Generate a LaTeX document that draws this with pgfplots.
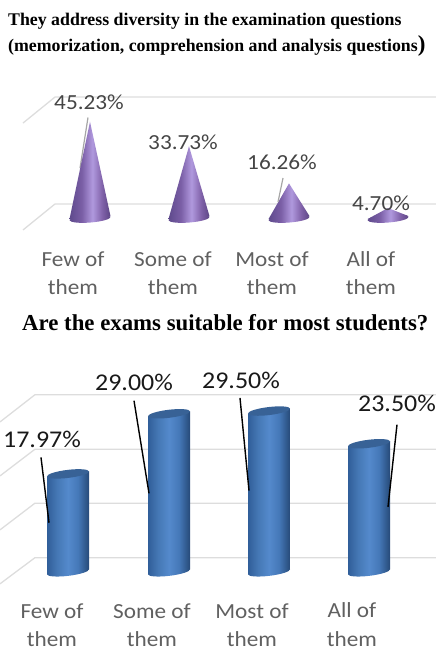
\documentclass[border=0pt]{standalone}
\usepackage{pgfplots}
\pgfplotsset{compat=1.18}
\usepackage{fontspec}
\setmainfont[FakeStretch=1.08]{Carlito}
\newfontfamily\titlefont{Liberation Serif}
% Lengthwise colour profiles of the 3D-looking columns and cones
\pgfdeclarehorizontalshading{conepurple}{100bp}{
  rgb(0bp)=(0.37,0.29,0.55); rgb(25bp)=(0.37,0.29,0.55);
  rgb(40bp)=(0.48,0.37,0.65); rgb(53bp)=(0.69,0.60,0.87);
  rgb(65bp)=(0.50,0.38,0.66); rgb(75bp)=(0.36,0.27,0.52); rgb(100bp)=(0.36,0.27,0.52)}
\pgfdeclarehorizontalshading{cylblue}{100bp}{
  rgb(0bp)=(0.19,0.37,0.60); rgb(25bp)=(0.19,0.37,0.60);
  rgb(37bp)=(0.27,0.47,0.71); rgb(50bp)=(0.33,0.54,0.80);
  rgb(62bp)=(0.27,0.47,0.72); rgb(75bp)=(0.15,0.29,0.47); rgb(100bp)=(0.15,0.29,0.47)}
\definecolor{gridgrey}{HTML}{DDDDDD}
\definecolor{topface}{HTML}{386296}
\definecolor{catgrey}{HTML}{606060}
\definecolor{lblgrey}{HTML}{454545}
\definecolor{leadgrey}{HTML}{A6A6A6}
% Tilted ellipses closing the foot and the head of each solid
\pgfdeclareplotmark{conebase}{\pgfpathellipse{\pgfqpoint{0pt}{-0.5pt}}{\pgfqpoint{20.5pt}{1.6pt}}{\pgfqpoint{-0.3pt}{4pt}}\pgfshadepath{conepurple}{0}\pgfusepath{discard}}
\pgfdeclareplotmark{cylbase}{\pgfpathellipse{\pgfpointorigin}{\pgfqpoint{21pt}{2.5pt}}{\pgfqpoint{-0.4pt}{4pt}}\pgfshadepath{cylblue}{0}\pgfusepath{discard}}
\pgfdeclareplotmark{cyltop}{\pgfpathellipse{\pgfpointorigin}{\pgfqpoint{21pt}{2.5pt}}{\pgfqpoint{-0.4pt}{4pt}}\pgfusepathqfill}
\pgfplotsset{
  panel/.style={x=1pt,xmin=0,xmax=436,scale only axis,axis lines=none,clip=false,anchor=south west},
  gridline/.style={gridgrey,line width=1.3pt,no markers},
}
\tikzset{cat/.style={text=catgrey,align=center,anchor=north,font=\fontsize{21.5}{28.5}\selectfont}}
\begin{document}
\begin{tikzpicture}
\useasboundingbox (0,0) rectangle (436pt,651pt);
% Headings
\node[anchor=base west,inner sep=0pt,font=\titlefont\bfseries\fontsize{17.8}{20}\selectfont] at (8pt,625pt)
  {They address diversity in the examination questions};
\node[anchor=base west,inner sep=0pt,font=\titlefont\bfseries\fontsize{17.8}{20}\selectfont] at (8pt,599pt)
  {(memorization, comprehension and analysis questions{\fontsize{23}{23}\selectfont)}};
\node[anchor=base west,inner sep=0pt,font=\titlefont\bfseries\fontsize{22.8}{26}\selectfont] at (22pt,320pt)
  {Are the exams suitable for most students?};

% Cone panel: 2.13 pt per percentage point, baseline 433 pt above the page foot
\begin{axis}[at={(0pt,407.4pt)},y=2.13pt,ymin=-12,ymax=58,panel]
  \addplot[gridline] coordinates {(23,44.6) (55,56.8) (436,56.8)};
  \addplot[gridline] coordinates {(23,-5.6) (55,6.6) (436,6.6)};
  \addplot[leadgrey,line width=1.2pt] coordinates {(88,47.2) (80,23.4)};
  \addplot[only marks,mark=conebase] coordinates {(90,0) (189,0) (289,0) (388,0)};
  \addplot[draw=none,shading=conepurple] coordinates {(69.5,-0.5) (90,45.23) (110.5,0.9)};
  \addplot[draw=none,shading=conepurple] coordinates {(168.5,-0.5) (189,33.73) (209.5,0.9)};
  \addplot[draw=none,shading=conepurple] coordinates {(268.5,-0.5) (289,16.26) (309.5,0.9)};
  \addplot[draw=none,shading=conepurple] coordinates {(367.5,-0.5) (388,4.70) (408.5,0.9)};
  \addplot[leadgrey,line width=1.2pt] coordinates {(283,18.8) (278,7.5)};
  \begin{scope}[text=lblgrey,font=\fontsize{21.5}{25}\selectfont]
    \node at (axis cs:89,54.5) {45.23\%};
    \node at (axis cs:183,35.7) {33.73\%};
    \node at (axis cs:282,26.3) {16.26\%};
    \node at (axis cs:381,7.0) {4.70\%};
    \node[cat] at (axis cs:73,-14) {Few of\\them};
    \node[cat] at (axis cs:173,-14) {Some of\\them};
    \node[cat] at (axis cs:272,-14) {Most of\\them};
    \node[cat] at (axis cs:371,-14) {All of\\them};
  \end{scope}
\end{axis}

% Column panel: 5.45 pt per percentage point, baseline 80 pt above the page foot
\begin{axis}[at={(0pt,60.1pt)},y=5.45pt,ymin=-3.5,ymax=34,panel]
  \addplot[gridline] coordinates {(0,27.5) (35,32.5) (436,32.5)};
  \addplot[gridline] coordinates {(0,17.6) (35,22.5) (436,22.5)};
  \addplot[gridline] coordinates {(0,7.7) (35,12.6) (436,12.6)};
  \addplot[gridline] coordinates {(0,-2.2) (35,2.6) (436,2.6)};
  \addplot[only marks,mark=cylbase] coordinates {(68,0) (169,0) (269,0) (369,0)};
  \addplot[draw=none,shading=cylblue] coordinates {(47,-0.46) (47,17.51) (89,18.43) (89,0.46)};
  \addplot[draw=none,shading=cylblue] coordinates {(148,-0.46) (148,28.54) (190,29.46) (190,0.46)};
  \addplot[draw=none,shading=cylblue] coordinates {(248,-0.46) (248,29.04) (290,29.96) (290,0.46)};
  \addplot[draw=none,shading=cylblue] coordinates {(348,-0.46) (348,23.04) (390,23.96) (390,0.46)};
  \addplot[only marks,mark=cyltop,mark options={fill=topface,draw=none}] coordinates {(68,17.97) (169,29.00) (269,29.50) (369,23.50)};
  \addplot[black,line width=1.4pt] coordinates {(41,21.0) (49,9.0)};
  \addplot[black,line width=1.4pt] coordinates {(134,31.4) (149,14.4)};
  \addplot[black,line width=1.4pt] coordinates {(240,31.9) (249,14.9)};
  \addplot[black,line width=1.4pt] coordinates {(397,27.0) (388,11.9)};
  \begin{scope}[text=black!90,font=\fontsize{24}{28}\selectfont]
    \node at (axis cs:42,24.3) {17.97\%};
    \node at (axis cs:134,34.7) {29.00\%};
    \node at (axis cs:241,35.1) {29.50\%};
    \node at (axis cs:397,30.9) {23.50\%};
    \node[cat] at (axis cs:52,-5.2) {Few of\\them};
    \node[cat] at (axis cs:152,-5.2) {Some of\\them};
    \node[cat] at (axis cs:252,-5.2) {Most of\\them};
    \node[cat] at (axis cs:352,-5.05) {All of\\them};
  \end{scope}
\end{axis}
\end{tikzpicture}
\end{document}
